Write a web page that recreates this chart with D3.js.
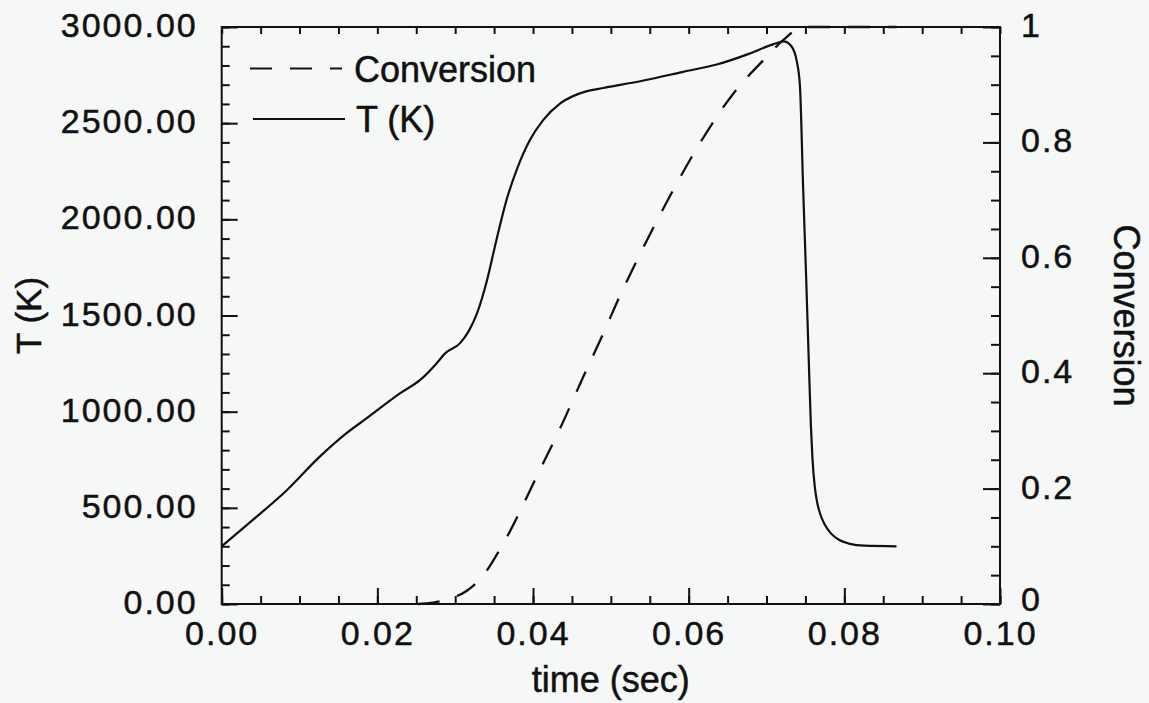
<!DOCTYPE html>
<html>
<head>
<meta charset="utf-8">
<script src="https://d3js.org/d3.v7.min.js"></script>
<style>
  html, body { margin: 0; padding: 0; background: #f6f8f7; }
  svg { display: block; }
  text { font-family: "Liberation Sans", Arial, Helvetica, sans-serif; fill: #111; stroke: #111; stroke-width: 0.5px; }
</style>
</head>
<body>
<script>
// ---- data ----
const tempTime = [0, 0.004, 0.0084, 0.0126, 0.016, 0.0186, 0.0229, 0.0255, 0.0276, 0.0287, 0.0306, 0.0317, 0.0328, 0.0341, 0.0353, 0.0366, 0.0379, 0.0396, 0.0413, 0.0435, 0.046, 0.049, 0.0512, 0.0542, 0.0593, 0.0636, 0.0679, 0.0709, 0.0722, 0.0732, 0.0739, 0.0743, 0.0747, 0.0751, 0.0754, 0.0757, 0.0759, 0.0762, 0.0765, 0.0769, 0.0775, 0.0783, 0.0793, 0.0806, 0.0826, 0.0867];
const tempK = [300, 437, 593, 766, 887, 965, 1095, 1165, 1251, 1303, 1355, 1416, 1511, 1685, 1893, 2101, 2257, 2412, 2516, 2603, 2655, 2683, 2699, 2722, 2767, 2805, 2863, 2911, 2925, 2900, 2820, 2690, 2170, 1690, 1305, 930, 760, 610, 530, 468, 412, 366, 334, 314, 303, 300];

const convTime = [0.0252, 0.0263, 0.0289, 0.0315, 0.0338, 0.0355, 0.037, 0.0405, 0.0435, 0.0465, 0.049, 0.0512, 0.0537, 0.0572, 0.0615, 0.0657, 0.07, 0.0722, 0.0747, 0.0867];
const conversion = [0, 0.001, 0.008, 0.023, 0.053, 0.089, 0.125, 0.222, 0.305, 0.395, 0.468, 0.535, 0.605, 0.697, 0.800, 0.884, 0.948, 0.978, 1.0, 1.0];

const xTicks = [0, 0.02, 0.04, 0.06, 0.08, 0.1];
const tTicks = [0, 500, 1000, 1500, 2000, 2500, 3000];
const convTicks = [0, 0.2, 0.4, 0.6, 0.8, 1];
const xLabel = "time (sec)";
const tLabel = "T (K)";
const convLabel = "Conversion";
const legendLabels = ["Conversion", "T (K)"];

// ---- layout ----
const W = 1149, H = 703;
const L = 221.7, R = 1000, T = 27, B = 604;

const svg = d3.select("body").append("svg").attr("width", W).attr("height", H);

const x = d3.scaleLinear().domain([0, 0.1]).range([L, R]);
const yT = d3.scaleLinear().domain([0, 3000]).range([B, T]);
const yC = d3.scaleLinear().domain([0, 1]).range([B, T]);

const tickFont = 34;
function styleAxis(g, withText) {
  g.select(".domain").remove();
  g.selectAll(".tick line").attr("stroke", "#111").attr("stroke-width", 2);
  if (withText) {
    g.selectAll(".tick text")
      .style("font-size", tickFont + "px")
      .style("letter-spacing", "2px")
      .attr("fill", "#111");
  } else {
    g.selectAll(".tick text").remove();
  }
}

// bottom axis
const xMinor = d3.range(0, 0.1001, 0.005);
svg.append("g").attr("transform", `translate(0,${B})`)
  .call(d3.axisBottom(x).tickValues(xMinor).tickSizeInner(-8).tickSizeOuter(0).tickFormat(""))
  .call(g => styleAxis(g, false));
svg.append("g").attr("transform", `translate(0,${B})`)
  .call(d3.axisBottom(x).tickValues(xTicks).tickSizeInner(-16).tickSizeOuter(0).tickPadding(17).tickFormat(d3.format(".2f")))
  .call(g => styleAxis(g, true));
// top axis
svg.append("g").attr("transform", `translate(0,${T})`)
  .call(d3.axisTop(x).tickValues(xMinor).tickSizeInner(-7).tickSizeOuter(0).tickFormat(""))
  .call(g => styleAxis(g, false));

// left axis
const tMinor = d3.range(0, 3001, 100);
svg.append("g").attr("transform", `translate(${L},0)`)
  .call(d3.axisLeft(yT).tickValues(tMinor).tickSizeInner(-8).tickSizeOuter(0).tickFormat(""))
  .call(g => styleAxis(g, false));
svg.append("g").attr("transform", `translate(${L},0)`)
  .call(d3.axisLeft(yT).tickValues(tTicks).tickSizeInner(-16).tickSizeOuter(0).tickPadding(24).tickFormat(d3.format(".2f")))
  .call(g => styleAxis(g, true))
  .call(g => g.selectAll(".tick text").attr("dy", "0.28em"));

// right axis
const cMinor = d3.range(0, 1.0001, 0.05);
svg.append("g").attr("transform", `translate(${R},0)`)
  .call(d3.axisRight(yC).tickValues(cMinor).tickSizeInner(-9).tickSizeOuter(0).tickFormat(""))
  .call(g => styleAxis(g, false));
svg.append("g").attr("transform", `translate(${R},0)`)
  .call(d3.axisRight(yC).tickValues(convTicks).tickSizeInner(-17).tickSizeOuter(0).tickPadding(21).tickFormat(d => String(+d.toFixed(1))))
  .call(g => styleAxis(g, true))
  .call(g => g.selectAll(".tick text").attr("dy", d => d === 0 ? "0.2em" : "0.28em"));

// frame
svg.append("rect").attr("x", L).attr("y", T).attr("width", R - L).attr("height", B - T)
  .attr("fill", "none").attr("stroke", "#111").attr("stroke-width", 2);

// curves
const tempData = tempTime.map((t, i) => ({ t, v: tempK[i] }));
const convData = convTime.map((t, i) => ({ t, v: conversion[i] }));

svg.append("path").datum(tempData)
  .attr("fill", "none").attr("stroke", "#111").attr("stroke-width", 2.2)
  .attr("d", d3.line().x(d => x(d.t)).y(d => yT(d.v)).curve(d3.curveMonotoneX));

svg.append("path").datum(convData)
  .attr("fill", "none").attr("stroke", "#111").attr("stroke-width", 2.3)
  .attr("stroke-dasharray", "22,18")
  .attr("d", d3.line().x(d => x(d.t)).y(d => yC(d.v)).curve(d3.curveMonotoneX));

// axis titles
svg.append("text").attr("x", (L + R) / 2).attr("y", 692)
  .attr("text-anchor", "middle").style("font-size", "36px").text(xLabel);
svg.append("text").attr("transform", `translate(41,${(T + B) / 2}) rotate(-90)`)
  .attr("text-anchor", "middle").style("font-size", "35px").text(tLabel);
svg.append("text").attr("transform", `translate(1114,${(T + B) / 2}) rotate(90)`)
  .attr("text-anchor", "middle").style("font-size", "36px").text(convLabel);

// legend
const leg = svg.append("g");
leg.append("line").attr("x1", 250).attr("x2", 342).attr("y1", 68.5).attr("y2", 68.5)
  .attr("stroke", "#111").attr("stroke-width", 2).attr("stroke-dasharray", "22,18");
leg.append("text").attr("x", 354).attr("y", 81.5).style("font-size", "36px").text(legendLabels[0]);
leg.append("line").attr("x1", 253).attr("x2", 345).attr("y1", 119).attr("y2", 119)
  .attr("stroke", "#111").attr("stroke-width", 2);
leg.append("text").attr("x", 356).attr("y", 131.5).style("font-size", "36px").text(legendLabels[1]);
</script>
</body>
</html>
